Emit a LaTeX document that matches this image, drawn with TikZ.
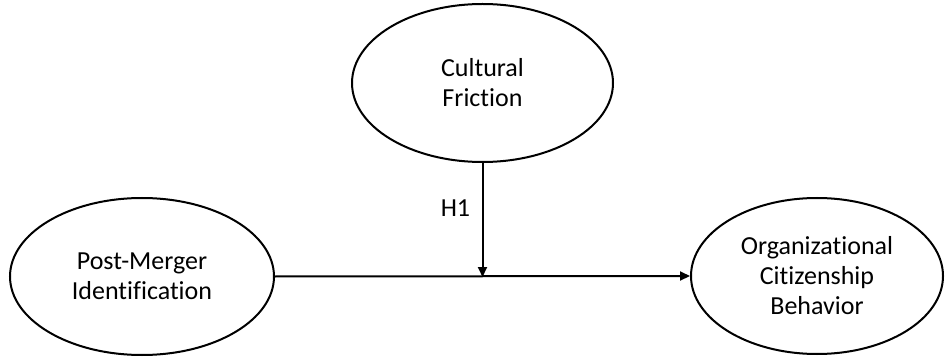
\documentclass[tikz,border=0pt]{standalone}
\usepackage{fontspec}
\setmainfont[Ligatures=NoCommon]{Carlito}
\usetikzlibrary{shapes.geometric,arrows.meta}
\begin{document}
\begin{tikzpicture}[x=1pt,y=-1pt,
  latent/.style={draw=black,line width=2pt,ellipse,inner sep=0pt,align=center,font=\fontsize{26}{30}\selectfont},
  link/.style={draw=black,line width=2pt,-{Triangle[length=10pt,width=9pt]}}]
\useasboundingbox (0,0) rectangle (945,358);
\node[latent,minimum width=261pt,minimum height=158pt] (cf) at (482.5,83) {Cultural\\Friction};
\node[latent,minimum width=264pt,minimum height=157pt] (pmi) at (142,276.5) {Post-Merger\\Identification};
\node[latent,minimum width=252pt,minimum height=156pt] (ocb) at (817,276) {Organizational\\Citizenship\\Behavior};
\coordinate (m) at (482.5,277);
\draw[link] (pmi.east) -- (ocb.west);
\draw[link] (cf.south) -- (m) node[pos=0.4,left=8pt,font=\fontsize{26}{30}\selectfont] {H1};
\end{tikzpicture}
\end{document}
